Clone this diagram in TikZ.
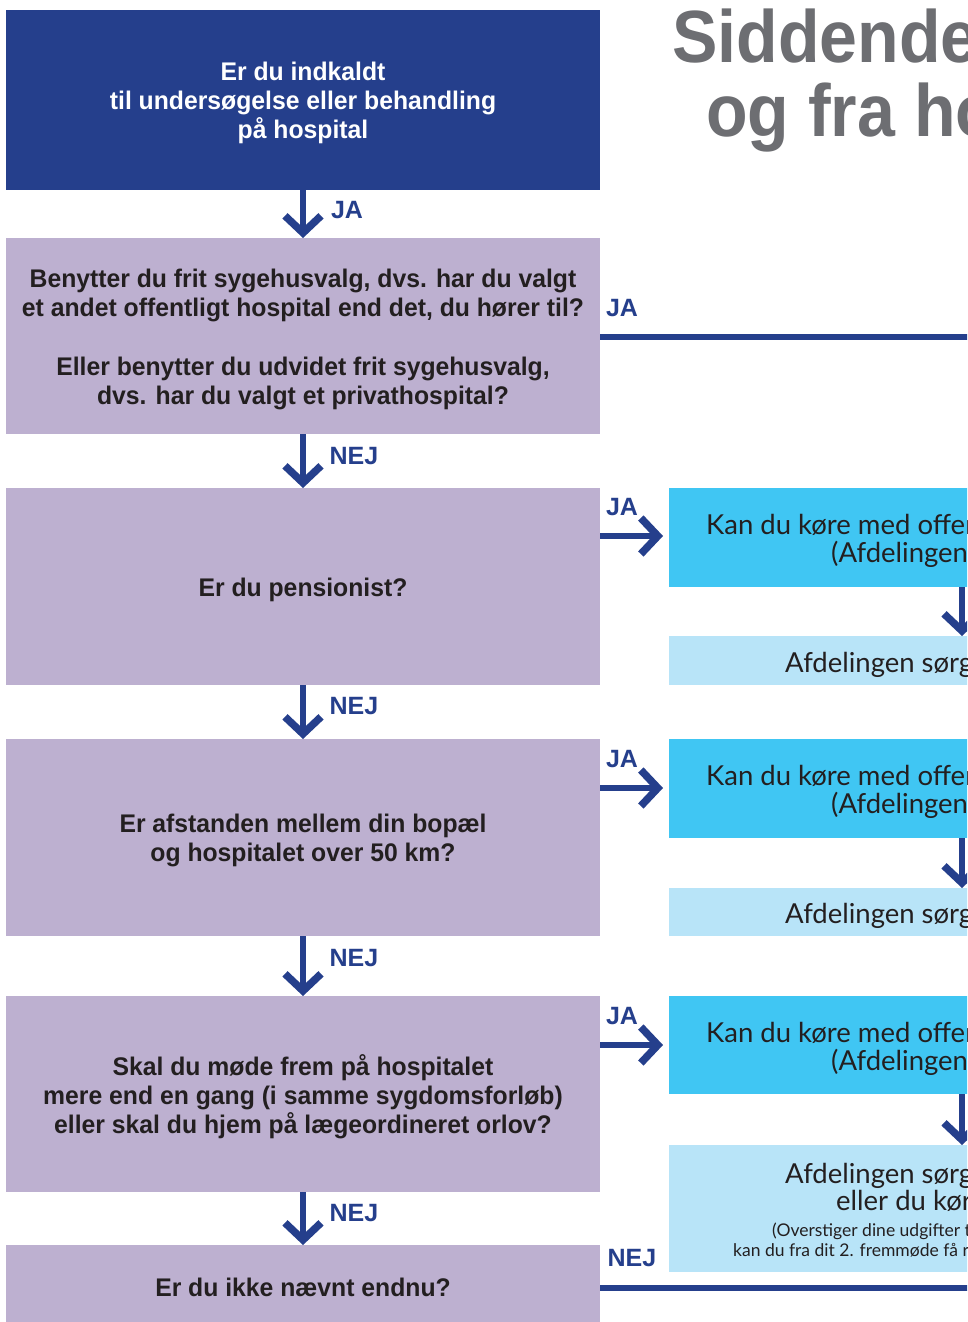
\documentclass[tikz,border=0pt]{standalone}
\usepackage{fontspec}
\setmainfont{Liberation Sans}
\newfontfamily\bodyfont[FakeStretch=0.97]{Liberation Sans}
\newfontfamily\titlefont[FakeStretch=0.92]{Liberation Sans}
\newfontfamily\lightfont{Lato}
\usetikzlibrary{arrows.meta}
\definecolor{dblue}{RGB}{37,63,140}
\definecolor{lilac}{RGB}{189,176,208}
\definecolor{cyanbox}{RGB}{64,198,243}
\definecolor{lightbox}{RGB}{184,228,248}
\definecolor{titlegray}{RGB}{109,110,114}
\definecolor{ink}{RGB}{35,31,32}
\tikzset{
  qbox/.style={rectangle, inner sep=0pt, outer sep=0pt, minimum width=594pt, fill=lilac},
  topbox/.style={qbox, fill=dblue},
  qtext/.style={inner sep=0pt, text=ink, align=center, font=\bodyfont\bfseries\fontsize{25.5}{29}\selectfont},
  toptext/.style={qtext, text=white},
  cbox/.style={rectangle, inner sep=0pt, outer sep=0pt, minimum width=331pt, fill=cyanbox},
  lbox/.style={rectangle, inner sep=0pt, outer sep=0pt, minimum width=331pt, fill=lightbox},
  rtext/.style={anchor=base west, inner sep=0pt, text=ink, font=\lightfont\fontsize{27.5}{28}\selectfont},
  rsmall/.style={anchor=base west, inner sep=0pt, text=ink, font=\lightfont\fontsize{17.5}{20}\selectfont},
  lbl/.style={inner sep=0pt, text=dblue, font=\bfseries\fontsize{25}{25}\selectfont},
  arr/.style={draw=dblue, line width=6.5pt, -{Straight Barb[length=17pt, width=36pt, line width=7.5pt]}},
  hline/.style={draw=dblue, line width=6.5pt},
  ttl/.style={anchor=base west, inner sep=0pt, text=titlegray, font=\titlefont\bfseries\fontsize{74}{74}\selectfont}
}
\begin{document}
\begin{tikzpicture}[x=1pt,y=-1pt]
\useasboundingbox (0,0) rectangle (967,1322);
\clip (0,0) rectangle (967,1322);
\fill[white] (0,0) rectangle (967,1322);

% title
\node[ttl] (t1) at (672,63) {Siddende patienttransport};
\node[ttl] (t2) at (706,136) {og fra hospital};

% left column boxes
\node[topbox, minimum height=180pt] (q0) at (303,100) {};
\node[qbox, minimum height=196pt] (q1) at (303,336) {};
\node[qbox, minimum height=197pt] (q2) at (303,586.5) {};
\node[qbox, minimum height=197pt] (q3) at (303,837.5) {};
\node[qbox, minimum height=196pt] (q4) at (303,1094) {};
\node[qbox, minimum height=82pt] (q5) at (303,1286) {};

% left column texts
\node[toptext] (qt0) at ([yshift=-3pt]q0.center) {Er du indkaldt\\til undersøgelse eller behandling\\på hospital};
\node[qtext] (qt1) at ([yshift=-3pt]q1.center) {Benytter du frit sygehusvalg, dvs. har du valgt\\et andet offentligt hospital end det, du hører til?\\[30pt]Eller benytter du udvidet frit sygehusvalg,\\dvs. har du valgt et privathospital?};
\node[qtext] (qt2) at ([yshift=-3pt]q2.center) {Er du pensionist?};
\node[qtext] (qt3) at ([yshift=-3pt]q3.center) {Er afstanden mellem din bopæl\\og hospitalet over 50 km?};
\node[qtext] (qt4) at ([yshift=-3pt]q4.center) {Skal du møde frem på hospitalet\\mere end en gang (i samme sygdomsforløb)\\eller skal du hjem på lægeordineret orlov?};
\node[qtext] (qt5) at ([yshift=-1pt]q5.center) {Er du ikke nævnt endnu?};

% right column
\node[cbox, minimum height=99pt] (c2) at (834.5,537.5) {};
\node[lbox, minimum height=49pt] (l2) at (834.5,660.5) {};
\node[cbox, minimum height=99pt] (c3) at (834.5,788.5) {};
\node[lbox, minimum height=48pt] (l3) at (834.5,912) {};
\node[cbox, minimum height=98pt] (c4) at (834.5,1045) {};
\node[lbox, minimum height=127pt] (l4) at (834.5,1208.5) {};

\node[rtext] (c2a) at (706,534) {Kan du køre med offentlig transport?};
\node[rtext] (c2b) at (831,562) {(Afdelingens vurdering)};
\node[rtext] (l2a) at (785,672) {Afdelingen sørger for transport};
\node[rtext] (c3a) at (706,785) {Kan du køre med offentlig transport?};
\node[rtext] (c3b) at (831,813) {(Afdelingens vurdering)};
\node[rtext] (l3a) at (785,923) {Afdelingen sørger for transport};
\node[rtext] (c4a) at (706,1042) {Kan du køre med offentlig transport?};
\node[rtext] (c4b) at (831,1070) {(Afdelingens vurdering)};
\node[rtext] (l4a) at (785,1183) {Afdelingen sørger for transport,};
\node[rtext] (l4b) at (836,1210) {eller du kører selv.};
\node[rsmall] (l4c) at (772,1236) {(Overstiger dine udgifter til transport 70 kr.,};
\node[rsmall] (l4d) at (733,1256) {kan du fra dit 2. fremmøde få refusion)};

% down arrows left
\draw[arr] (q0.south) -- (q1.north);
\draw[arr] (q1.south) -- (q2.north);
\draw[arr] (q2.south) -- (q3.north);
\draw[arr] (q3.south) -- (q4.north);
\draw[arr] (q4.south) -- (q5.north);
\node[lbl] (ja0) at (347,210) {JA};
\node[lbl] (nej1) at (354,456) {NEJ};
\node[lbl] (nej2) at (354,706) {NEJ};
\node[lbl] (nej3) at (354,958) {NEJ};
\node[lbl] (nej4) at (354,1213) {NEJ};

% right arrows
\draw[arr] (q2.east |- 0,536) -- ([xshift=-6pt]c2.west |- 0,536);
\draw[arr] (q3.east |- 0,788) -- ([xshift=-6pt]c3.west |- 0,788);
\draw[arr] (q4.east |- 0,1045) -- ([xshift=-6pt]c4.west |- 0,1045);
\node[lbl] (ja2) at (622,507) {JA};
\node[lbl] (ja3) at (622,759) {JA};
\node[lbl] (ja4) at (622,1016) {JA};

% right down arrows
\draw[arr] ([xshift=-38pt]c2.south east) -- ([xshift=-38pt]l2.north east);
\draw[arr] ([xshift=-38pt]c3.south east) -- ([xshift=-38pt]l3.north east);
\draw[arr] ([xshift=-38pt]c4.south east) -- ([xshift=-38pt]l4.north east);

% horizontal lines
\coordinate (e1) at (1000,337);
\coordinate (e2) at (1000,1288);
\draw[hline] (q1.east |- e1) -- (e1);
\draw[hline] (q5.east |- e2) -- (e2);
\node[lbl] (ja1) at (622,308) {JA};
\node[lbl] (nej5) at (632,1258) {NEJ};
\end{tikzpicture}
\end{document}
